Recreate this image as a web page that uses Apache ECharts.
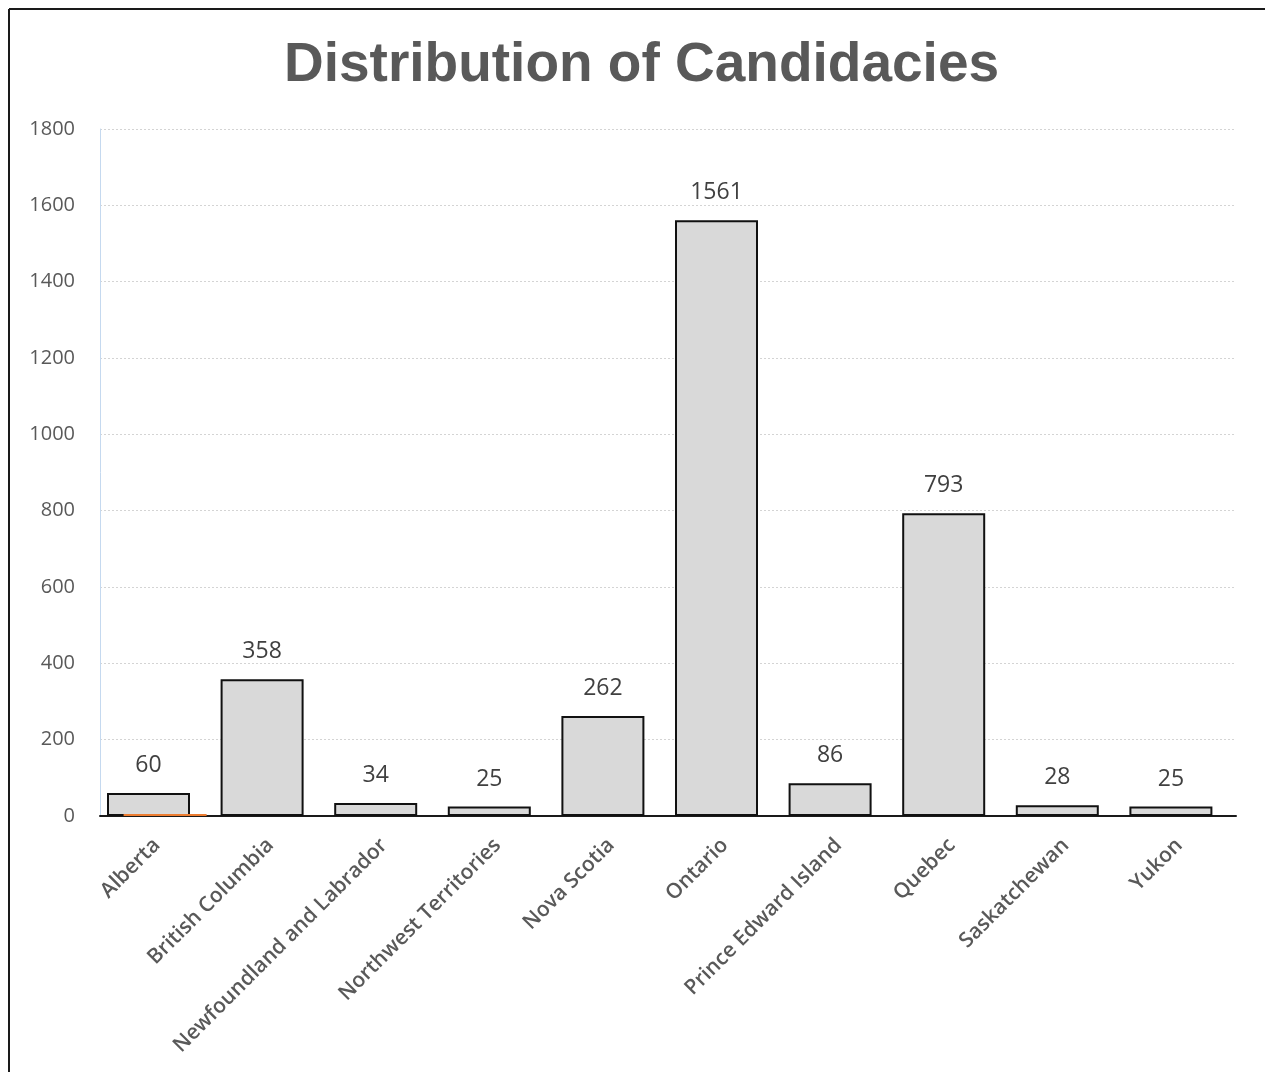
<!DOCTYPE html>
<html>
<head>
<meta charset="utf-8">
<script src="https://cdn.jsdelivr.net/npm/echarts@6/dist/echarts.min.js"></script>
<style>
  html, body { margin: 0; padding: 0; background: #ffffff; }
  #chart { width: 1265px; height: 1072px; }
</style>
</head>
<body>
<div id="chart"></div>
<script>
// Candidacies per province / territory
const provinces = ['Alberta', 'British Columbia', 'Newfoundland and Labrador', 'Northwest Territories',
  'Nova Scotia', 'Ontario', 'Prince Edward Island', 'Quebec', 'Saskatchewan', 'Yukon'];
const candidacies = [60, 358, 34, 25, 262, 1561, 86, 793, 28, 25];
// second (tiny) series, only present for Alberta
const secondary = [5, null, null, null, null, null, null, null, null, null];
const yTicks = { min: 0, max: 1800, interval: 200 };

const chart = echarts.init(document.getElementById('chart'));
chart.setOption({
  backgroundColor: '#ffffff',
  animation: false,
  title: {
    text: 'Distribution of Candidacies',
    left: 279,
    top: 33,
    textStyle: { fontFamily: 'Liberation Sans', fontWeight: 'bold', fontSize: 55, color: '#595959' }
  },
  grid: { left: 100, right: 29, top: 129, bottom: 256 },
  xAxis: {
    type: 'category',
    data: provinces,
    axisLine: { lineStyle: { color: '#1a1a1a', width: 2 } },
    axisTick: { show: false },
    axisLabel: {
      rotate: 45,
      interval: 0,
      margin: 26,
      fontFamily: 'Open Sans',
      fontSize: 21,
      fontWeight: 600,
      color: '#595959'
    }
  },
  yAxis: {
    type: 'value',
    min: yTicks.min,
    max: yTicks.max,
    interval: yTicks.interval,
    axisLine: { show: true, lineStyle: { color: '#c5d9ef', width: 1 } },
    axisTick: { show: false },
    axisLabel: {
      margin: 25,
      fontFamily: 'Open Sans',
      fontSize: 20,
      color: '#595959',
      formatter: (v) => String(v)
    },
    splitLine: { lineStyle: { color: '#d4d4d4', type: [2, 2], width: 1 } }
  },
  series: [
    {
      type: 'bar',
      data: candidacies,
      barWidth: 83,
      barGap: '-80%',
      itemStyle: { color: '#d9d9d9', borderColor: '#111111', borderWidth: 2 },
      label: {
        show: true,
        position: 'top',
        distance: 16,
        fontFamily: 'Open Sans',
        fontSize: 23,
        color: '#404040'
      },
      z: 2
    },
    {
      type: 'bar',
      data: secondary,
      barWidth: 83,
      itemStyle: { color: '#ed7d31' },
      z: 3
    }
  ],
  graphic: [
    { type: 'line', shape: { x1: 9, y1: 9, x2: 1265, y2: 9 }, style: { stroke: '#1a1a1a', lineWidth: 2 } },
    { type: 'line', shape: { x1: 9, y1: 9, x2: 9, y2: 1072 }, style: { stroke: '#1a1a1a', lineWidth: 2 } }
  ]
});
</script>
</body>
</html>
